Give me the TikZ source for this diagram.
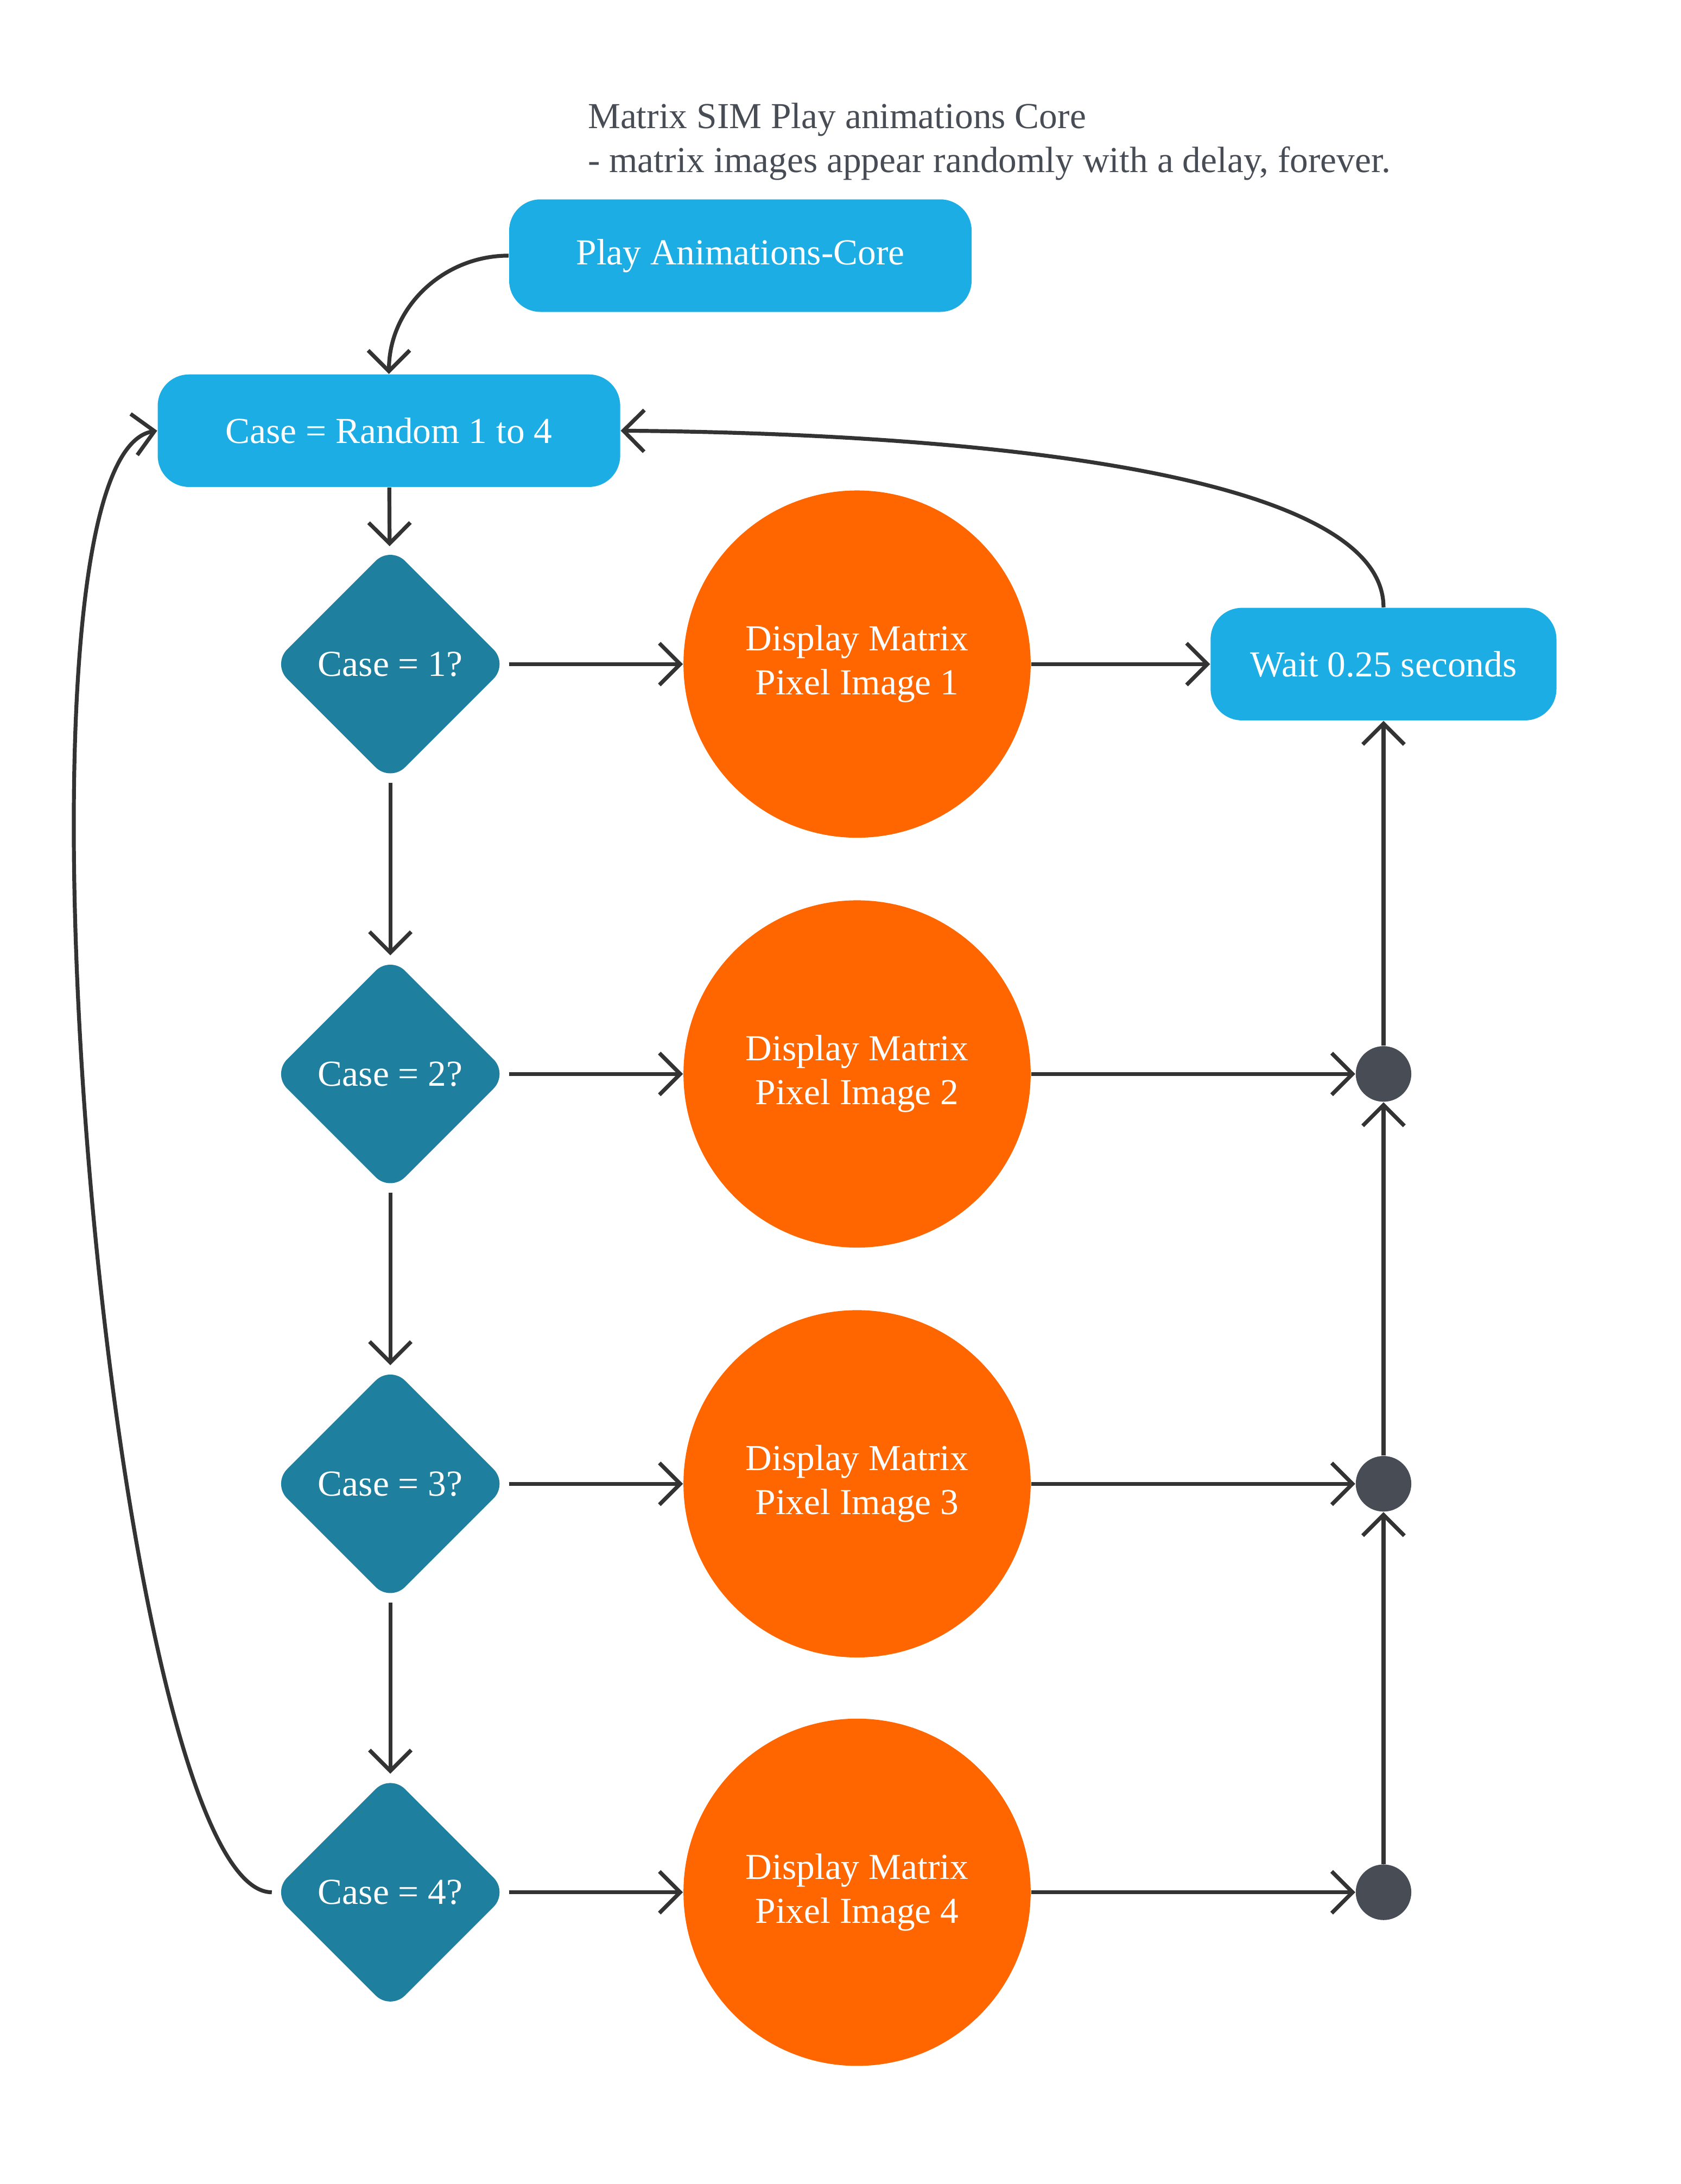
\documentclass[tikz,border=0pt]{standalone}
\usepackage{fontspec}
\setmainfont{Liberation Serif}
\usetikzlibrary{shapes.geometric,arrows.meta,positioning,calc}
\definecolor{boxblue}{HTML}{1BADE3}
\definecolor{diateal}{HTML}{1E7F9E}
\definecolor{disporange}{HTML}{FF6600}
\definecolor{dotgray}{HTML}{474C55}
\definecolor{linegray}{HTML}{333333}

\begin{document}
\begin{tikzpicture}[x=0.02cm,y=-0.02cm]
  \tikzstyle{task}=[rectangle, rounded corners=0.45cm, fill=boxblue, text=white, font=\fontsize{15}{18}\selectfont, minimum height=1.62cm]
  \tikzstyle{check}=[diamond, rounded corners=0.3cm, fill=diateal, text=white, font=\fontsize{15}{18}\selectfont, minimum size=3.4cm, inner sep=0pt]
  \tikzstyle{show}=[circle, fill=disporange, text=white, font=\fontsize{15}{18}\selectfont, minimum size=5cm, align=center]
  \tikzstyle{merge}=[circle, fill=dotgray, minimum size=0.8cm, inner sep=0pt]
  \tikzstyle{flow}=[-{Straight Barb[length=0.3cm,width=0.6cm]}, line width=1.6pt, linegray]

  \useasboundingbox (0,0) rectangle (1210,1572);

  % Titel
  \node[anchor=west, text=dotgray, align=left, font=\fontsize{15}{18}\selectfont] (title) at (417,102) {Matrix SIM Play animations Core\\- matrix images appear randomly with a delay, forever.};

  % Start und Zufall
  \node[task, minimum width=6.66cm] (play) at (533,184) {Play Animations-Core};
  \node[task, minimum width=6.66cm] (rand) at (280,310) {Case = Random 1 to 4};
  \node[task, minimum width=4.98cm] (wait) at (996,478) {Wait 0.25 seconds};

  % Abfragen, Bilder, Sammelpunkte
  \foreach \i/\y in {1/478,2/773,3/1068,4/1362} {
    \node[check] (c\i) at (281,\y) {Case = \i?};
    \node[show] (d\i) at (617,\y) {Display Matrix\\Pixel Image \i};
  }
  \foreach \i/\y in {2/773,3/1068,4/1362}
    \node[merge] (j\i) at (996,\y) {};

  % Verbindungen
  \draw[flow] (play.west) to[out=180,in=90] (rand.north);
  \draw[flow] (rand) -- (c1);
  \draw[flow] (c1) -- (c2);
  \draw[flow] (c2) -- (c3);
  \draw[flow] (c3) -- (c4);
  \foreach \i in {1,2,3,4}
    \draw[flow] (c\i) -- (d\i);
  \draw[flow] (d1) -- (wait);
  \foreach \i in {2,3,4}
    \draw[flow] (d\i) -- (j\i);
  \draw[flow] (j4) -- (j3);
  \draw[flow] (j3) -- (j2);
  \draw[flow] (j2) -- (wait);

  % Schleifen zurueck
  \draw[flow] (wait.north) .. controls (996,340) and (700,312) .. (rand.east);
  \draw[flow] (c4.west) .. controls (80,1362) and (-10,330) .. (rand.west);
\end{tikzpicture}
\end{document}
